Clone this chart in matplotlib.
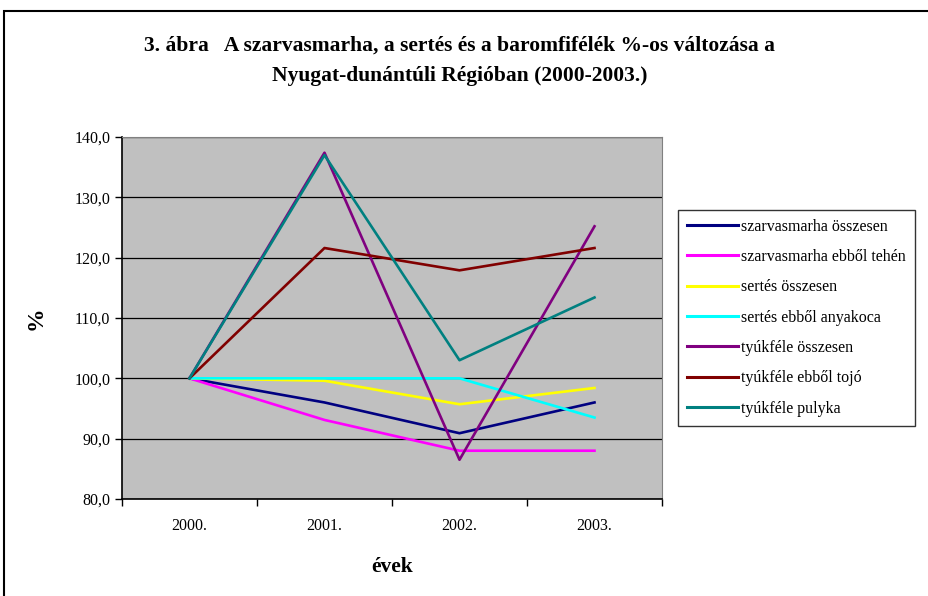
import matplotlib
matplotlib.use("Agg")
import matplotlib.pyplot as plt
from matplotlib.patches import Rectangle

# data
years = ["2000.", "2001.", "2002.", "2003."]
szarvasmarha_ossz = [100.0, 96.0, 90.9, 96.0]
szarvasmarha_tehen = [100.0, 93.1, 88.0, 88.0]
sertes_ossz = [100.0, 99.6, 95.7, 98.4]
sertes_anyakoca = [100.0, 100.0, 100.0, 93.5]
tyukfele_ossz = [100.0, 137.4, 86.5, 125.2]
tyukfele_tojo = [100.0, 121.6, 117.9, 121.6]
tyukfele_pulyka = [100.0, 137.0, 103.0, 113.4]

series = [
    ("szarvasmarha összesen", szarvasmarha_ossz, "#000080"),
    ("szarvasmarha ebből tehén", szarvasmarha_tehen, "#FF00FF"),
    ("sertés összesen", sertes_ossz, "#FFFF00"),
    ("sertés ebből anyakoca", sertes_anyakoca, "#00FFFF"),
    ("tyúkféle összesen", tyukfele_ossz, "#800080"),
    ("tyúkféle ebből tojó", tyukfele_tojo, "#800000"),
    ("tyúkféle pulyka", tyukfele_pulyka, "#008080"),
]

plt.rcParams['font.family'] = ['Liberation Serif', 'DejaVu Serif']

fig = plt.figure(figsize=(9.29, 5.96), dpi=100)
ax = fig.add_axes([0.1313, 0.1628, 0.5813, 0.6073])
ax.set_facecolor("#C0C0C0")

x = range(len(years))
for name, vals, col in series:
    ax.plot(x, vals, color=col, lw=1.9, label=name, zorder=3)

ax.set_xlim(-0.5, len(years) - 0.5)
ax.set_ylim(80, 140)
ax.set_yticks(range(80, 141, 10))
ax.set_yticklabels([f"{v},0" for v in range(80, 141, 10)], fontsize=11.5)
ax.yaxis.grid(True, color="black", lw=0.9, zorder=1)
ax.set_axisbelow(True)

# category ticks sit between the years, labels in the middle
ax.set_xticks([i - 0.5 for i in range(len(years) + 1)])
ax.set_xticklabels([])
ax.set_xticks(list(x), minor=True)
ax.set_xticklabels(years, minor=True, fontsize=11.5)
ax.tick_params(axis="x", which="minor", length=0, pad=14)
ax.tick_params(axis="both", which="major", length=5, width=1, direction="out")

for s in ["top", "right"]:
    ax.spines[s].set_color("#808080")
for s in ["left", "bottom"]:
    ax.spines[s].set_linewidth(1.2)

ax.set_ylabel("%", fontsize=17, fontweight="bold", labelpad=20)
ax.set_xlabel("évek", fontsize=15.5, fontweight="bold", labelpad=16)

fig.text(0.495, 0.898, "3. ábra   A szarvasmarha, a sertés és a baromfifélék %-os változása a\nNyugat-dunántúli Régióban (2000-2003.)",
         ha="center", va="center", fontsize=15.5, fontweight="bold", linespacing=1.65)

leg = fig.legend(loc="upper left", bbox_to_anchor=(0.730, 0.648), fontsize=11.5,
                 frameon=True, fancybox=False, handlelength=3.2, handletextpad=0.2,
                 labelspacing=0.9, borderpad=0.55, borderaxespad=0)
leg.get_frame().set_edgecolor("black")
leg.get_frame().set_linewidth(1)
for line in leg.get_lines():
    line.set_linewidth(2.2)

# outer chart border
fig.patches.append(Rectangle((4 / 929, -0.05), 1.2, 0.05 + (1 - 11 / 596), transform=fig.transFigure,
                             fill=False, edgecolor="black", lw=1.5))

fig.savefig("out.png", dpi=100)
